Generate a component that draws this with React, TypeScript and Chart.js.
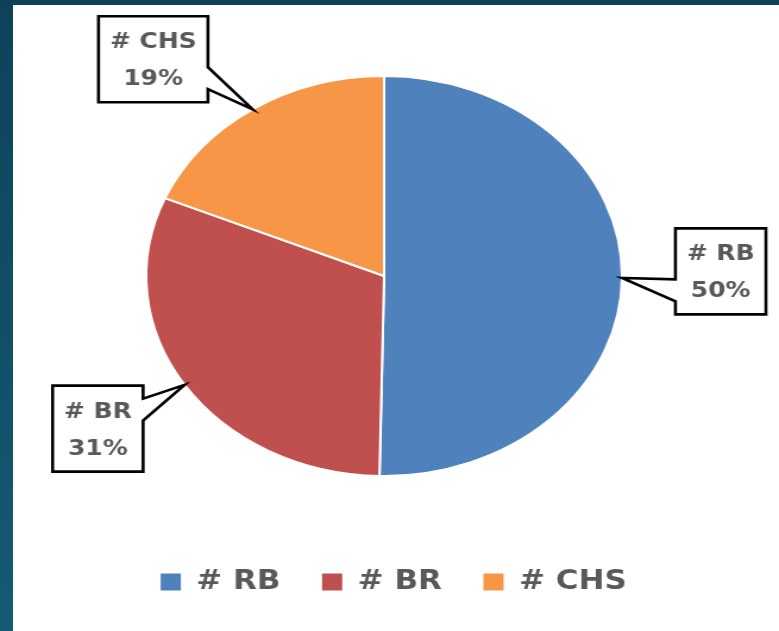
import React, { useEffect, useRef } from "react";
import { Chart, registerables } from "chart.js";

Chart.register(...registerables);

// ---- data ----
const categories = ["# RB", "# BR", "# CHS"];
const counts = [81, 50, 30];
const sliceColors = ["#4F81BD", "#C0504D", "#F79646"];

// ---- layout constants ----
const PANEL_W = 766;
const PANEL_H = 626;
const CANVAS_W = 644;
const STRETCH_X = PANEL_W / CANVAS_W;

const calloutPlugin = {
  id: "callouts",
  afterDatasetsDraw(chart: any, _args: any, opts: any) {
    const meta = chart.getDatasetMeta(0);
    const data = chart.data.datasets[0].data as number[];
    const total = data.reduce((a, b) => a + b, 0);
    const ctx = chart.ctx as CanvasRenderingContext2D;
    ctx.save();
    ctx.font = opts.font;
    meta.data.forEach((arc: any, i: number) => {
      const { x, y, startAngle, endAngle, outerRadius } = arc.getProps(
        ["x", "y", "startAngle", "endAngle", "outerRadius"],
        true
      );
      const mid = (startAngle + endAngle) / 2;
      const tipX = x + Math.cos(mid) * outerRadius;
      const tipY = y + Math.sin(mid) * outerRadius;
      const ang = mid + (opts.angleShift[i] * Math.PI) / 180;
      const d = opts.distance[i] * outerRadius;
      const cx = x + Math.cos(ang) * d;
      const cy = y + Math.sin(ang) * d;
      const line1 = String(chart.data.labels[i]);
      const line2 = Math.round((data[i] / total) * 100) + "%";
      const w =
        Math.max(ctx.measureText(line1).width, ctx.measureText(line2).width) +
        2 * opts.padX;
      const h = opts.height;
      const L = cx - w / 2,
        R = cx + w / 2,
        T = cy - h / 2,
        B = cy + h / 2;
      const nc = cy + Math.sign(tipY - cy) * opts.notchOffset;
      const n1 = nc - opts.notchHalf,
        n2 = nc + opts.notchHalf;
      ctx.beginPath();
      ctx.moveTo(L, T);
      ctx.lineTo(R, T);
      if (tipX > R) {
        ctx.lineTo(R, n1);
        ctx.lineTo(tipX, tipY);
        ctx.lineTo(R, n2);
      }
      ctx.lineTo(R, B);
      ctx.lineTo(L, B);
      if (tipX < L) {
        ctx.lineTo(L, n2);
        ctx.lineTo(tipX, tipY);
        ctx.lineTo(L, n1);
      }
      ctx.closePath();
      ctx.fillStyle = "#ffffff";
      ctx.fill();
      ctx.lineWidth = opts.lineWidth;
      ctx.lineJoin = "miter";
      ctx.strokeStyle = "#000000";
      ctx.stroke();
      ctx.fillStyle = opts.color;
      ctx.textAlign = "center";
      ctx.textBaseline = "middle";
      ctx.fillText(line1, cx, T + opts.line1Y);
      ctx.fillText(line2, cx, T + opts.line2Y);
    });
    ctx.restore();
  },
};

const legendShiftPlugin = {
  id: "legendShift",
  afterLayout(chart: any, _args: any, opts: any) {
    const lg = chart.legend;
    if (lg) {
      lg.left += opts.dx;
      lg.right += opts.dx;
    }
  },
};

export default function App() {
  const ref = useRef<HTMLCanvasElement>(null);

  useEffect(() => {
    if (!ref.current) return;
    const chart = new Chart(ref.current, {
      type: "pie",
      data: {
        labels: categories,
        datasets: [
          {
            data: counts,
            backgroundColor: sliceColors,
            borderColor: "#ffffff",
            borderWidth: 2,
          },
        ],
      },
      plugins: [calloutPlugin as any, legendShiftPlugin as any],
      options: {
        responsive: false,
        animation: false,
        devicePixelRatio: 1,
        layout: { padding: { top: 70, left: 40, right: 60, bottom: 26 } },
        plugins: {
          tooltip: { enabled: false },
          legend: {
            position: "bottom",
            title: {
              display: true,
              text: "",
              font: { size: 10, lineHeight: 1 },
              padding: { top: 47, bottom: 0 },
            },
            labels: {
              boxWidth: 17,
              boxHeight: 17,
              padding: 35,
              color: "#595959",
              font: { family: '"DejaVu Sans", Verdana, sans-serif', size: 26, weight: "bold" },
              generateLabels: (c: any) =>
                (Chart as any).overrides.pie.plugins.legend.labels
                  .generateLabels(c)
                  .map((l: any) => ({ ...l, lineWidth: 0, strokeStyle: l.fillStyle })),
            },
          },
          callouts: {
            font: 'bold 21px "DejaVu Sans", Verdana, sans-serif',
            color: "#595959",
            distance: [1.415, 1.425, 1.455],
            angleShift: [-1.5, 0.6, -8.3],
            padX: 9.5,
            height: 86,
            line1Y: 26.5,
            line2Y: 63.5,
            notchOffset: 19,
            notchHalf: 11,
            lineWidth: 2.6,
          },
          legendShift: { dx: 8 },
        } as any,
      },
    });
    return () => chart.destroy();
  }, []);

  return (
    <div
      style={{
        position: "fixed",
        left: 0,
        top: 0,
        width: 779,
        height: 631,
        overflow: "hidden",
        background: "linear-gradient(180deg, #0e4259 0%, #165a74 100%)",
      }}
    >
      <div
        style={{
          position: "absolute",
          left: 13,
          top: 5,
          width: PANEL_W,
          height: PANEL_H,
          background: "#ffffff",
          overflow: "hidden",
        }}
      >
        <div
          style={{
            width: CANVAS_W,
            height: PANEL_H,
            transform: `scaleX(${STRETCH_X})`,
            transformOrigin: "0 0",
          }}
        >
          <canvas
            ref={ref}
            width={CANVAS_W}
            height={PANEL_H}
            style={{ display: "block", width: CANVAS_W, height: PANEL_H }}
          />
        </div>
      </div>
    </div>
  );
}
